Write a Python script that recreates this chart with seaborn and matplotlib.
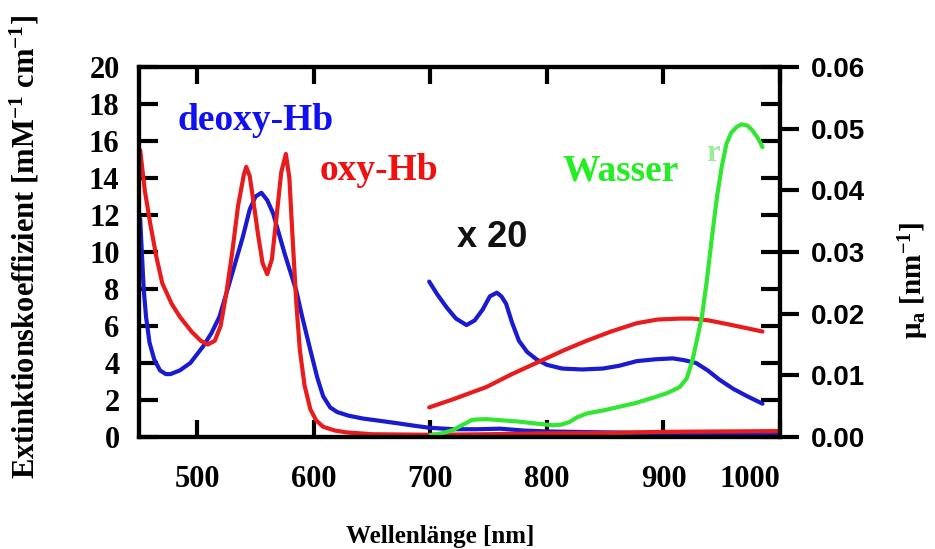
import numpy as np
import pandas as pd
import matplotlib
matplotlib.use("Agg")
import matplotlib.pyplot as plt
import seaborn as sns

# deoxy-Hb extinction [mM^-1 cm^-1]
deoxy_nm = [451, 452, 454, 456, 459, 463, 468, 473, 477, 485, 494, 505, 512, 519, 527, 533,
            539, 545, 550, 555, 560, 565, 570, 575, 580, 585, 590, 597, 603, 608, 614, 620,
            630, 642, 656, 671, 685, 699, 720, 740, 760, 780, 800, 850, 900, 950, 1000]
deoxy_val = [11.8, 10.5, 8.0, 6.5, 5.1, 4.2, 3.6, 3.4, 3.4, 3.6, 4.0, 4.9, 5.6, 6.5, 8.2, 9.5,
             10.8, 12.3, 13.0, 13.2, 12.8, 12.1, 11.0, 9.9, 8.9, 7.9, 6.5, 4.7, 3.2, 2.2, 1.6, 1.35,
             1.15, 1.0, 0.88, 0.75, 0.62, 0.5, 0.42, 0.42, 0.45, 0.35, 0.3, 0.25, 0.2, 0.15, 0.12]

# oxy-Hb extinction [mM^-1 cm^-1]
oxy_nm = [451, 455, 460, 465, 470, 478, 485, 495, 503, 509, 515, 520, 525, 530, 535, 540,
          542, 545, 548, 552, 556, 560, 564, 568, 572, 576, 579, 582, 585, 588, 592, 597,
          602, 608, 618, 628, 650, 700, 750, 800, 850, 900, 950, 1000]
oxy_val = [15.5, 13.3, 11.4, 9.7, 8.3, 7.2, 6.5, 5.7, 5.2, 5.0, 5.2, 6.0, 7.8, 10.0, 12.5, 14.2,
           14.6, 14.1, 12.8, 11.0, 9.4, 8.8, 9.6, 11.9, 14.3, 15.3, 14.0, 10.5, 7.2, 4.7, 2.8, 1.5,
           0.9, 0.55, 0.35, 0.25, 0.15, 0.12, 0.15, 0.2, 0.22, 0.28, 0.3, 0.32]

# "x 20" magnified NIR parts
deoxy20_nm = [699, 706, 714, 722, 731, 738, 745, 751, 757, 761, 765, 770, 776, 783, 791, 800,
              813, 830, 848, 862, 877, 893, 908, 918, 928, 938, 948, 960, 972, 985]
deoxy20_val = [8.4, 7.7, 7.0, 6.4, 6.05, 6.3, 6.9, 7.6, 7.8, 7.6, 7.2, 6.2, 5.2, 4.6, 4.2, 3.9,
               3.7, 3.65, 3.7, 3.85, 4.1, 4.2, 4.25, 4.15, 4.0, 3.6, 3.1, 2.6, 2.2, 1.8]
oxy20_nm = [699, 720, 748, 770, 796, 815, 834, 855, 877, 895, 914, 925, 939, 955, 970, 985]
oxy20_val = [1.6, 2.05, 2.7, 3.4, 4.15, 4.7, 5.2, 5.7, 6.15, 6.35, 6.4, 6.4, 6.3, 6.1, 5.9, 5.7]

# water absorption mu_a [nm^-1]
water_nm = [700, 710, 719, 728, 736, 748, 762, 776, 790, 805, 812, 819, 826, 834, 848, 862,
            876, 890, 903, 914, 920, 925, 929, 933, 937, 942, 946, 950, 954, 958, 963, 967,
            972, 976, 981, 985]
water_val = [0.0003, 0.0006, 0.0011, 0.002, 0.0028, 0.0029, 0.0027, 0.0025, 0.0022, 0.0019,
             0.002, 0.0024, 0.0032, 0.0038, 0.0043, 0.0049, 0.0055, 0.0063, 0.0071, 0.0081,
             0.0095, 0.0125, 0.016, 0.0195, 0.025, 0.033, 0.039, 0.0438, 0.0475, 0.0493,
             0.0503, 0.0507, 0.0505, 0.0498, 0.0485, 0.047]

x_ticks = [500, 600, 700, 800, 900, 1000]
mu_ticks = ["0.00", "0.01", "0.02", "0.03", "0.04", "0.05", "0.06"]

BLUE = "#1a1ad0"
RED = "#e81c1c"
GREEN = "#33e633"
SERIF = "Liberation Serif"
SANS = "Liberation Sans"

sns.set_theme(style="ticks")
plt.rcParams["font.family"] = [SERIF, "DejaVu Serif"]
plt.rcParams["text.color"] = "black"
plt.rcParams["xtick.color"] = "black"
plt.rcParams["ytick.color"] = "black"
plt.rcParams["mathtext.fontset"] = "custom"
plt.rcParams["mathtext.rm"] = SERIF
plt.rcParams["mathtext.bf"] = SERIF + ":bold"
plt.rcParams["mathtext.it"] = SERIF + ":italic"

fig = plt.figure(figsize=(9.35, 5.49), dpi=100)
ax = fig.add_axes([0.1487, 0.204, 0.6855, 0.674])
ax2 = ax.twinx()

lw = 3.0
sns.lineplot(x=deoxy_nm, y=deoxy_val, ax=ax, color=BLUE, lw=lw, sort=False, estimator=None)
sns.lineplot(x=oxy_nm, y=oxy_val, ax=ax, color=RED, lw=lw, sort=False, estimator=None)
sns.lineplot(x=deoxy20_nm, y=deoxy20_val, ax=ax, color=BLUE, lw=lw, sort=False, estimator=None)
sns.lineplot(x=oxy20_nm, y=oxy20_val, ax=ax, color=RED, lw=lw, sort=False, estimator=None)
sns.lineplot(x=water_nm, y=water_val, ax=ax2, color=GREEN, lw=lw, sort=False, estimator=None)

ax.set_xlim(450, 1000)
ax.set_ylim(0, 20)
ax2.set_ylim(0, 0.06)

for a in (ax, ax2):
    for s in a.spines.values():
        s.set_linewidth(3)
        s.set_color("black")
        s.set_visible(True)

ax.set_xticks(x_ticks)
ax.set_xticklabels([str(t) for t in x_ticks])
ax.set_yticks(np.arange(0, 21, 2))
ax.tick_params(axis="x", direction="in", length=12, width=3, top=True, bottom=True, pad=20,
               labelsize=22)
ax.tick_params(axis="y", direction="in", length=14, width=3, left=True, right=True, pad=14,
               labelsize=22)
for lab in ax.get_xticklabels() + ax.get_yticklabels():
    lab.set_fontweight("bold")
    lab.set_family(SERIF)
ax.get_xticklabels()[-1].set_ha("right")

ax2.set_yticks([0, 0.01, 0.02, 0.03, 0.04, 0.05, 0.06])
ax2.set_yticklabels(mu_ticks)
ax2.tick_params(axis="y", direction="out", length=14, width=3, pad=8, labelsize=20)
for lab in ax2.get_yticklabels():
    lab.set_fontweight("bold")
    lab.set_family(SANS)

ax.set_xlabel("")
ax.set_ylabel("")
ax2.set_ylabel("")

fig.text(0.027, 0.55, r"Extinktionskoeffizient [mM$^{\mathbf{-1}}$ cm$^{\mathbf{-1}}$]",
         rotation=90, ha="center", va="center", fontsize=22, fontweight="bold")
fig.text(0.977, 0.49, r"$\mathbf{\mu_a}$ [nm$^{\mathbf{-1}}$]",
         rotation=90, ha="center", va="center", fontsize=21, fontweight="bold")
fig.text(0.471, 0.022, "Wellenlänge [nm]", ha="center", va="center",
         fontsize=18, fontweight="bold")

ax.text(483, 17.1, "deoxy-Hb", color="#1010f0", fontsize=27, fontweight="bold",
        va="center", ha="left")
ax.text(605, 14.4, "oxy-Hb", color="#f01010", fontsize=27, fontweight="bold",
        va="center", ha="left")
ax.text(813, 14.4, "Wasser", color="#22ee22", fontsize=27, fontweight="bold",
        va="center", ha="left")
ax.text(723, 10.8, "x 20", color="#111111", fontsize=26, fontweight="bold",
        va="center", ha="left", family=SANS)
ax.text(937, 15.3, "r", color="#99ee99", fontsize=22, fontweight="bold",
        va="center", ha="left")

fig.savefig("out.png", dpi=100)
